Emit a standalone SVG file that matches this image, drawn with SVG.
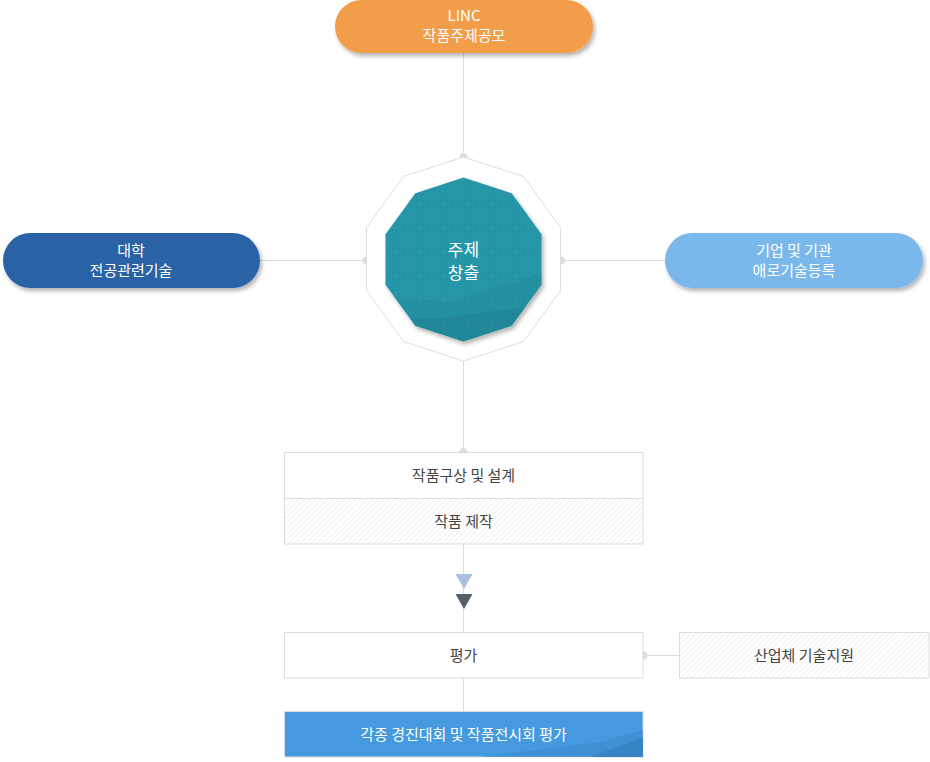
<svg xmlns="http://www.w3.org/2000/svg" width="930" height="762" viewBox="0 0 930 762">
<defs>
<style>
.t{font-family:"Noto Sans CJK KR","Noto Sans",sans-serif;font-size:15px;text-anchor:middle;}
.w{fill:#ffffff;}
.d{fill:#444444;}
.ln{stroke:#dddddd;stroke-width:1;fill:none;}
.dot{fill:#dddddd;}
.box{stroke:#dddddd;stroke-width:1;}
</style>
<filter id="sh" x="-10%" y="-20%" width="125%" height="160%">
<feDropShadow dx="2" dy="3" stdDeviation="2" flood-color="#000" flood-opacity="0.3"/>
</filter>
<pattern id="hatch" width="4" height="4" patternUnits="userSpaceOnUse" patternTransform="rotate(45)">
<rect width="4" height="4" fill="#ffffff"/>
<line x1="0" y1="0" x2="0" y2="4" stroke="#e3e3e3" stroke-width="1"/>
</pattern>
<pattern id="dots" width="6" height="6" patternUnits="userSpaceOnUse">
<rect width="6" height="6" fill="#2697a9"/>
<rect x="2" y="2" width="1.2" height="1.2" fill="#1f8798"/>
</pattern>
<clipPath id="decClip">
<polygon points="463.5,177.5 511.7,193.2 541.5,234.2 541.5,284.8 511.7,325.8 463.5,341.5 415.3,325.8 385.5,284.8 385.5,234.2 415.3,193.2"/>
</clipPath>
<clipPath id="blueClip">
<rect x="284" y="711" width="359" height="46"/>
</clipPath>
</defs>

<g id="connectors">
<line class="ln" x1="463.5" y1="53" x2="463.5" y2="157"/>
<line class="ln" x1="260" y1="260.5" x2="366.5" y2="260.5"/>
<line class="ln" x1="560.5" y1="260.5" x2="665" y2="260.5"/>
<line class="ln" x1="463.5" y1="361" x2="463.5" y2="452"/>
<line class="ln" x1="463.5" y1="544" x2="463.5" y2="632"/>
<line class="ln" x1="643" y1="655.5" x2="679" y2="655.5"/>
<line class="ln" x1="463.5" y1="678" x2="463.5" y2="711"/>
<circle class="dot" cx="463.5" cy="157" r="4"/>
<circle class="dot" cx="366.5" cy="260.5" r="4"/>
<circle class="dot" cx="561" cy="260.5" r="4"/>
<circle class="dot" cx="463.5" cy="452" r="4"/>
<circle class="dot" cx="643.5" cy="655.5" r="4"/>
<polygon points="455.5,574 472.5,574 464,589" fill="#a9bfe1"/>
<polygon points="455.5,594 472.5,594 464,609" fill="#555e6b"/>
</g>

<g id="node-linc">
<rect x="335" y="0" width="258" height="53" rx="26.5" fill="#f29d4a" filter="url(#sh)"/>
<text class="t w" x="464" y="21">LINC</text>
<text class="t w" x="464" y="41">작품주제공모</text>
</g>

<g id="node-univ">
<rect x="3" y="233" width="257" height="55" rx="27.5" fill="#2a62a6" filter="url(#sh)"/>
<text class="t w" x="131" y="256">대학</text>
<text class="t w" x="131" y="276">전공관련기술</text>
</g>

<g id="node-company">
<rect x="665" y="233" width="258" height="55" rx="27.5" fill="#7ab8ec" filter="url(#sh)"/>
<text class="t w" x="794" y="256">기업 및 기관</text>
<text class="t w" x="794" y="276">애로기술등록</text>
</g>

<g id="node-center">
<polygon points="463.5,157 523.5,176.5 560.5,227.5 560.5,290.5 523.5,341.5 463.5,361 403.5,341.5 366.5,290.5 366.5,227.5 403.5,176.5" fill="#ffffff" stroke="#dddddd" stroke-width="1"/>
<polygon points="463.5,177.5 511.7,193.2 541.5,234.2 541.5,284.8 511.7,325.8 463.5,341.5 415.3,325.8 385.5,284.8 385.5,234.2 415.3,193.2" fill="url(#dots)" filter="url(#sh)"/>
<g clip-path="url(#decClip)">
<polygon points="380,295 450,302 545,272 545,350 380,350" fill="#1d7f91" opacity="0.25"/>
<polygon points="380,318 440,318 545,305 545,350 380,350" fill="#1a7486" opacity="0.3"/>
</g>
<text class="t w" x="463.5" y="256" style="font-size:17px">주제</text>
<text class="t w" x="463.5" y="279" style="font-size:17px">창출</text>
</g>

<g id="node-design">
<rect class="box" x="284.5" y="452.5" width="358.5" height="46" fill="#ffffff"/>
<text class="t d" x="463.5" y="481">작품구상 및 설계</text>
</g>

<g id="node-make">
<rect class="box" x="284.5" y="498.5" width="358.5" height="45.5" fill="url(#hatch)"/>
<text class="t d" x="463.5" y="527">작품 제작</text>
</g>

<g id="node-eval">
<rect class="box" x="284.5" y="632.5" width="358.5" height="45.5" fill="#ffffff"/>
<text class="t d" x="463.5" y="661">평가</text>
</g>

<g id="node-support">
<rect class="box" x="679.5" y="632.5" width="249.5" height="45.5" fill="url(#hatch)"/>
<text class="t d" x="804" y="661">산업체 기술지원</text>
</g>

<g id="node-contest">
<rect x="284.5" y="711.5" width="358.5" height="45.5" fill="#4599df" stroke="#dddddd" stroke-width="1"/>
<g clip-path="url(#blueClip)">
<polygon points="480,757 600,742 643,730 643,757" fill="#3a88cc" opacity="0.6"/>
<polygon points="590,757 643,738 643,757" fill="#357fc2" opacity="0.8"/>
</g>
<text class="t w" x="463.5" y="740">각종 경진대회 및 작품전시회 평가</text>
</g>
</svg>
